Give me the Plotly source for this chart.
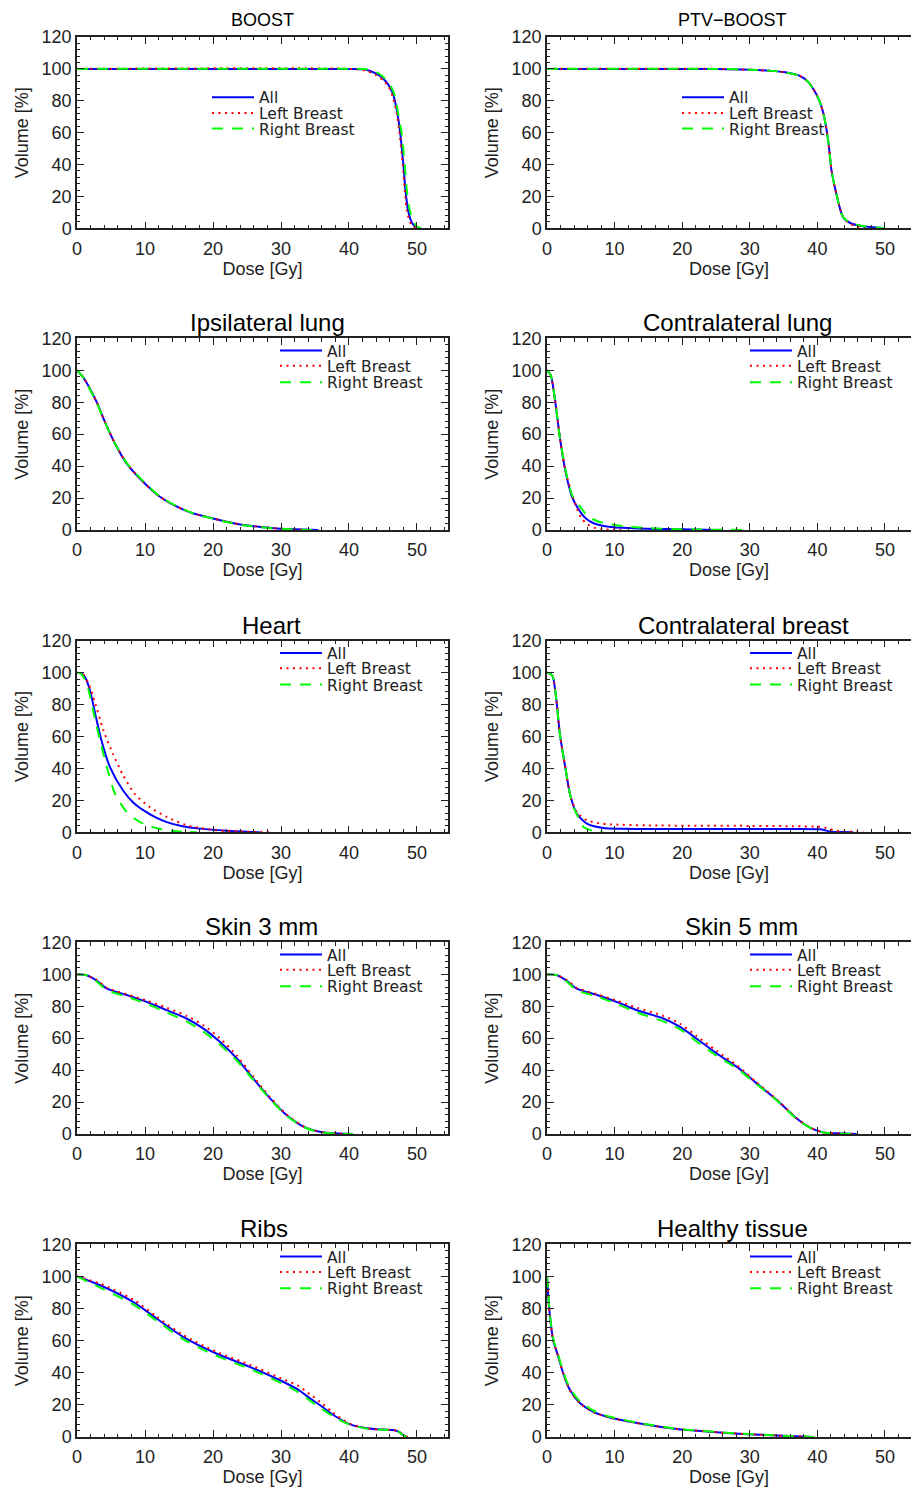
import plotly.graph_objects as go

W, H = 911, 1489

# ---------------- data ----------------
titles = ["BOOST", "PTV\u2212BOOST", "Ipsilateral lung", "Contralateral lung", "Heart",
          "Contralateral breast", "Skin 3 mm", "Skin 5 mm", "Ribs", "Healthy tissue"]
series_names = ["All", "Left Breast", "Right Breast"]

# BOOST
boost_all_d = [0, 40, 42.5, 44, 45, 45.8, 46.5, 46.9, 47.2, 47.5, 48.0, 48.3, 48.7, 49.1, 49.6, 50.2]
boost_all_v = [100, 100, 99.5, 97, 94, 90, 84, 77, 70, 61, 40, 24, 11, 5, 1.5, 0]
boost_left_d = [0, 40, 42.5, 44, 45, 45.8, 46.4, 46.8, 47.1, 47.4, 47.9, 48.2, 48.5, 48.9, 49.3, 49.8]
boost_left_v = [100, 100, 99, 96, 93, 89, 83, 77, 70, 61, 40, 24, 11, 5, 1.5, 0]
boost_right_d = [0, 40, 42.5, 44, 45, 45.9, 46.6, 47.0, 47.3, 47.7, 48.2, 48.5, 48.9, 49.4, 49.9, 50.6]
boost_right_v = [100, 100, 99.8, 98, 95, 91, 85, 78, 70, 61, 40, 24, 12, 5, 1.5, 0]

# PTV-BOOST
ptv_all_d = [0, 25, 30, 33, 35, 37.4, 38.6, 39.6, 40.3, 40.9, 41.6, 42.1, 42.9, 43.8, 45.0, 46.5, 50.0]
ptv_all_v = [100, 100, 99.5, 98.8, 98, 95.6, 92, 86, 80, 72, 55, 36, 20, 7, 3, 1.5, 0]
ptv_left_d = [0, 25, 30, 33, 35, 37.4, 38.6, 39.6, 40.3, 40.9, 41.6, 42.1, 42.9, 43.8, 45.0, 47.0]
ptv_left_v = [100, 100, 99.5, 98.8, 98, 95.6, 92, 86, 80, 72, 55, 36, 20, 7, 2.5, 0]
ptv_right_d = [0, 25, 30, 33, 35, 37.4, 38.6, 39.6, 40.3, 40.9, 41.6, 42.1, 42.9, 43.8, 45.0, 46.5, 50.0]
ptv_right_v = [100, 100, 99.5, 98.8, 98, 95.6, 92, 86, 80, 72, 55, 36, 20, 7, 3.2, 1.6, 0]

# Ipsilateral lung
ipsi_all_d = [0, 1, 1.9, 2.9, 4.1, 5.6, 7.3, 9.75, 12.2, 14.7, 17, 19.6, 22, 24.5, 27, 29.4, 32, 35.5]
ipsi_all_v = [100, 95, 88.5, 80, 67.7, 54, 41.7, 30, 20.8, 14.6, 10.5, 7.7, 5.2, 3.1, 1.9, 1.0, 0.4, 0]
ipsi_left_d = [0, 1, 1.9, 2.9, 4.1, 5.6, 7.3, 9.75, 12.2, 14.7, 17, 19.6, 22, 24.5, 27, 29.4, 31.5, 34]
ipsi_left_v = [100, 95, 88.5, 80, 67.7, 54, 41.7, 30, 20.8, 14.6, 10.5, 7.7, 5.2, 3.1, 1.9, 1.0, 0.4, 0]
ipsi_right_d = [0, 1, 1.9, 2.9, 4.1, 5.6, 7.3, 9.75, 12.2, 14.7, 17, 19.6, 22, 24.5, 27, 29.4, 32, 35]
ipsi_right_v = [100, 95, 88, 79.5, 67.5, 54, 42, 30.5, 21, 14.8, 10.6, 7.6, 5.0, 3.0, 1.8, 0.9, 0.3, 0]

# Contralateral lung
clung_all_d = [0, 0.55, 1.2, 1.9, 2.7, 3.7, 4.9, 5.8, 6.9, 8.2, 9.8, 12, 14.7, 19.7, 25.1]
clung_all_v = [100, 97, 81, 58, 37.5, 20.8, 11.5, 7, 4.2, 2.6, 1.7, 1.2, 0.8, 0.4, 0]
clung_left_d = [0, 0.55, 1.2, 1.9, 2.7, 3.5, 4.3, 5.1, 6.0, 6.9, 8.3, 11.0]
clung_left_v = [100, 97, 81, 58, 37.5, 25, 15, 7.3, 3.5, 1.5, 0.5, 0]
clung_right_d = [0, 0.55, 1.2, 1.9, 2.7, 3.7, 4.9, 6.1, 7.5, 9.1, 11.5, 14.7, 19.7, 24, 29.5]
clung_right_v = [100, 97, 81, 58, 38.5, 22, 14.6, 8.3, 5.5, 3.7, 2.3, 1.2, 0.4, 0.2, 0]

# Heart
heart_all_d = [0, 0.6, 1.2, 1.9, 2.9, 3.6, 4.85, 6.8, 8.3, 9.8, 11.5, 13.2, 15.5, 18.1, 22, 26.9]
heart_all_v = [100, 99.5, 97, 89, 70, 57.5, 40.8, 26, 18.5, 13.7, 9.5, 6.4, 3.8, 2.3, 1.0, 0]
heart_left_d = [0, 0.9, 1.6, 2.4, 3.9, 5.3, 6.8, 8.5, 10.7, 13.2, 16.1, 20.5, 24, 28.4]
heart_left_v = [100, 99, 94, 84.6, 63.7, 49, 35.6, 24, 15.8, 9.6, 4.4, 1.25, 0.5, 0]
heart_right_d = [0, 0.5, 1.1, 1.7, 2.6, 3.4, 4.4, 5.6, 7.3, 8.5, 9.75, 11.5, 13.2, 15.5, 17.6]
heart_right_v = [100, 99.5, 96, 89, 72, 57.5, 40.8, 24, 12.7, 8.5, 5.4, 2.8, 1.25, 0.4, 0]

# Contralateral breast
cbreast_all_d = [0, 0.6, 0.9, 1.4, 1.9, 2.7, 3.4, 4.4, 5.9, 8.3, 11, 16.7, 30, 36.4, 40.4, 41.2, 41.9, 43.5, 45.3]
cbreast_all_v = [100, 99, 97, 82.5, 61.7, 40.8, 24, 11.7, 5.4, 2.7, 2.2, 2.1, 2.1, 2.1, 1.9, 1.2, 0.4, 0.2, 0]
cbreast_left_d = [0, 0.6, 0.9, 1.4, 1.9, 2.7, 3.4, 4.4, 5.9, 7.5, 9.3, 15, 30, 36.4, 40.4, 41.5, 42.4, 44, 46.8]
cbreast_left_v = [100, 99, 97, 82.5, 61.7, 40.8, 24, 12.7, 7.5, 5.8, 5, 4.3, 4, 3.8, 3.4, 2.5, 1.3, 0.6, 0]
cbreast_right_d = [0, 0.6, 0.9, 1.4, 1.9, 2.7, 3.4, 4.0, 4.6, 5.4, 6.85, 8.3]
cbreast_right_v = [100, 99, 97, 82.5, 61.7, 40.8, 24, 15, 9.6, 3.3, 0.8, 0]

# Skin 3 mm
skin3_d = [0, 1.4, 2.9, 4.4, 7.3, 10.25, 13.2, 16.1, 18.6, 21.0, 23.5, 25.9, 28.4, 30.8, 33.3, 35, 36.7, 38.5, 40.6]
skin3_all_v = [100, 99.4, 96, 91, 87, 82.7, 77.5, 72.3, 66, 57.7, 47.3, 34.8, 22.3, 11.9, 4.6, 2, 0.8, 0.3, 0]
skin3_left_v = [100, 99.4, 96.5, 91.5, 87.5, 83.5, 79, 74, 68, 60, 49, 36, 23, 12.3, 4.8, 2.1, 0.8, 0.3, 0]
skin3_right_v = [100, 99.4, 95.5, 90, 86, 81.5, 76, 70.5, 64, 56, 46, 34, 21.8, 11.5, 4.4, 1.9, 0.7, 0.2, 0]

# Skin 5 mm
skin5_d = [0, 1.5, 2.9, 4.4, 7.4, 10.3, 13.3, 17.2, 19.7, 22.1, 25.1, 28.1, 31.0, 34.0, 36.9, 38.9, 40.9, 43, 45.8]
skin5_all_v = [100, 99.4, 96, 91, 87, 82.7, 77.5, 72.3, 67, 59.8, 50.4, 42, 31.7, 21.3, 9.8, 4, 1.0, 0.4, 0]
skin5_left_v = [100, 99.4, 96.5, 91.5, 87.5, 83.5, 79, 74, 69, 61.5, 52, 43, 32.3, 21.6, 10, 4.1, 1.0, 0.4, 0]
skin5_right_v = [100, 99.4, 95.5, 90, 86, 81.5, 76, 70.5, 65.5, 58, 49, 41, 31.2, 21, 9.6, 3.9, 1.0, 0.3, 0]

# Ribs
ribs_d = [0, 3.4, 8.3, 11.7, 15.6, 20.5, 25.4, 30.3, 32.5, 34.3, 36, 37.7, 40.1, 42.6, 45, 46.5, 47.3, 48.2, 48.6]
ribs_all_v = [100, 94.5, 84, 73.8, 62.4, 52, 43.7, 34.4, 29.5, 24, 19, 13.7, 8, 5.4, 4.6, 4.4, 3.3, 0.6, 0]
ribs_left_v = [100, 95.5, 85.5, 75, 63.5, 53, 45, 36, 32, 26.5, 21, 15, 8.3, 5.4, 4.6, 4.4, 3.3, 0.6, 0]
ribs_right_v = [100, 93, 82.5, 72.5, 61, 50.5, 42.5, 33, 28, 22.5, 17.5, 12.8, 7.7, 5.2, 4.5, 4.3, 3.2, 0.5, 0]

# Healthy tissue
healthy_d = [0, 0.2, 0.44, 0.93, 1.67, 2.4, 3.4, 4.9, 6.85, 9.3, 14.2, 19.2, 24.1, 29.0, 34, 39.4]
healthy_all_v = [100, 87, 75, 60, 50, 39.6, 29.2, 21, 15.7, 12.2, 8.1, 5, 3.3, 1.9, 1.0, 0]
healthy_left_v = [100, 87, 75, 60, 50, 39.6, 29.0, 20.8, 15.5, 12.1, 8.0, 5, 3.3, 1.9, 1.0, 0]
healthy_right_v = [100, 88, 76, 61, 51, 40.5, 30.2, 22, 16.5, 12.6, 8.3, 5.1, 3.4, 2.0, 1.0, 0]

panels = [
    [(boost_all_d, boost_all_v), (boost_left_d, boost_left_v), (boost_right_d, boost_right_v)],
    [(ptv_all_d, ptv_all_v), (ptv_left_d, ptv_left_v), (ptv_right_d, ptv_right_v)],
    [(ipsi_all_d, ipsi_all_v), (ipsi_left_d, ipsi_left_v), (ipsi_right_d, ipsi_right_v)],
    [(clung_all_d, clung_all_v), (clung_left_d, clung_left_v), (clung_right_d, clung_right_v)],
    [(heart_all_d, heart_all_v), (heart_left_d, heart_left_v), (heart_right_d, heart_right_v)],
    [(cbreast_all_d, cbreast_all_v), (cbreast_left_d, cbreast_left_v), (cbreast_right_d, cbreast_right_v)],
    [(skin3_d, skin3_all_v), (skin3_d, skin3_left_v), (skin3_d, skin3_right_v)],
    [(skin5_d, skin5_all_v), (skin5_d, skin5_left_v), (skin5_d, skin5_right_v)],
    [(ribs_d, ribs_all_v), (ribs_d, ribs_left_v), (ribs_d, ribs_right_v)],
    [(healthy_d, healthy_all_v), (healthy_d, healthy_left_v), (healthy_d, healthy_right_v)],
]

x_ticks = [0, 10, 20, 30, 40, 50]
y_ticks = [0, 20, 40, 60, 80, 100, 120]

# ---------------- layout geometry (pixels) ----------------
row_px = [(37.0, 228.3), (338.3, 530.0), (640.7, 832.3), (942.3, 1134.0), (1244.3, 1437.0)]
col_px = [(77.0, 448.0), (547.0, 911.0)]
col_xmax = [54.56, 53.85]
title_cx = [262, 732, 267, 737, 271, 743, 261, 741, 264, 732]
sample_x = {(0, 0): 212, (0, 1): 682}
styles = [
    dict(color="rgb(0,0,255)", width=2, dash="solid"),
    dict(color="rgb(255,0,0)", width=2, dash="2px,4.5px"),
    dict(color="rgb(0,255,0)", width=2, dash="11px,9px"),
]

INK = "#222222"
TICKFONT = dict(family="Liberation Sans, Arial, sans-serif", size=18, color=INK)
LEGFONT = dict(family="DejaVu Sans, sans-serif", size=15.5, color=INK)

fig = go.Figure()
layout = dict(width=W, height=H, margin=dict(l=0, r=0, t=0, b=0, autoexpand=False),
              paper_bgcolor="white", plot_bgcolor="white", showlegend=True,
              template="none")
annotations = []

for i in range(10):
    r, c = divmod(i, 2)
    top, bot = row_px[r]
    x0, x1 = col_px[c]
    ax = "" if i == 0 else str(i + 1)
    xdom = [x0 / W, x1 / W]
    ydom = [1 - bot / H, 1 - top / H]
    common = dict(showline=True, linecolor=INK, linewidth=1.5, ticks="inside",
                  ticklen=7, tickwidth=1.3, tickcolor=INK, showgrid=False, zeroline=False,
                  tickfont=TICKFONT, fixedrange=True, automargin=False)
    layout["xaxis" + ax] = dict(
        domain=xdom, range=[0, col_xmax[c]], anchor="y" + ax,
        tickvals=x_ticks, mirror="allticks",
        minor=dict(dtick=2, tick0=0, ticks="inside", ticklen=3.5, tickwidth=1, tickcolor=INK),
        title=dict(text="Dose [Gy]", font=TICKFONT, standoff=4),
        ticklabelstandoff=3, **common)
    layout["yaxis" + ax] = dict(
        domain=ydom, range=[0, 120], anchor="x" + ax,
        tickvals=y_ticks, mirror=("allticks" if c == 0 else False),
        minor=dict(dtick=4, tick0=0, ticks="inside", ticklen=3.5, tickwidth=1, tickcolor=INK),
        title=dict(text="Volume [%]", font=TICKFONT, standoff=8),
        ticklabelstandoff=0, **common)

    # legend positions
    if r == 0:
        sx = sample_x[(0, c)]
        ys = [97.7, 113.3, 129.0]
    else:
        sx = 280 if c == 0 else 750
        ys = [top + 12.7, top + 28.0, top + 44.3]

    for j, (d, v) in enumerate(panels[i]):
        lid = 3 * i + j + 1
        lkey = "legend" if lid == 1 else "legend" + str(lid)
        fig.add_trace(go.Scatter(
            x=d, y=v, mode="lines", name=series_names[j],
            line=dict(shape="spline", smoothing=0.7, **styles[j]),
            xaxis="x" + ax, yaxis="y" + ax, legend=lkey, hoverinfo="skip"))
        layout[lkey] = dict(x=(sx - 5) / W, y=1 - ys[j] / H, xanchor="left", yanchor="middle",
                            bgcolor="rgba(0,0,0,0)", borderwidth=0, font=LEGFONT,
                            itemwidth=42, itemclick=False, itemdoubleclick=False)

    big = r > 0
    annotations.append(dict(
        text=titles[i], xref="paper", yref="paper", x=title_cx[i] / W,
        y=1 - ((top - 15.5) if big else 20.3) / H, xanchor="center", yanchor="middle",
        showarrow=False,
        font=dict(family="Liberation Sans, Arial, sans-serif", size=24 if big else 18, color="black")))

layout["annotations"] = annotations
fig.update_layout(**layout)
fig.write_html("out.html", config={"displayModeBar": False, "staticPlot": False},
               post_script="document.body.style.margin='0';document.body.style.overflow='hidden';")
